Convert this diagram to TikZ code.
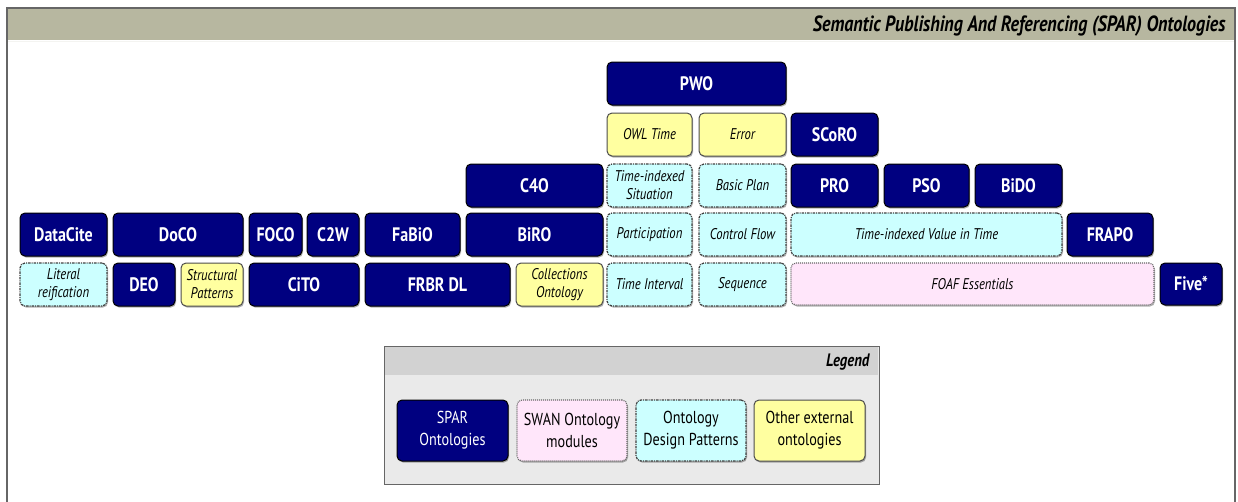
\documentclass[tikz,border=0pt]{standalone}
\usepackage{fontspec}
\setmainfont{PT Sans}[FakeStretch=0.82]
\usetikzlibrary{shadows}
\definecolor{navy}{RGB}{0,0,128}
\definecolor{ylw}{RGB}{255,255,160}
\definecolor{cyn}{RGB}{204,255,255}
\definecolor{pnk}{RGB}{255,230,250}
\definecolor{band}{RGB}{183,183,160}
\definecolor{lghead}{RGB}{210,210,210}
\definecolor{lgbody}{RGB}{234,234,234}
\tikzset{
  base/.style={rounded corners=5pt, inner sep=0pt, align=center, line width=1pt,
    drop shadow={shadow xshift=1pt, shadow yshift=-1.5pt, opacity=0.3, fill=black}},
  spar/.style={base, fill=navy, draw=black, text=white, font=\bfseries\fontsize{19.5}{20}\selectfont},
  ext/.style={base, fill=ylw, draw=black!70, text=black, font=\itshape\fontsize{15.5}{18}\selectfont},
  odp/.style={base, fill=cyn, draw=black!75, line width=1.2pt, text=black, dash pattern=on 2.5pt off 1pt on 1pt off 1pt, font=\itshape\fontsize{15.5}{18}\selectfont},
  swan/.style={base, fill=pnk, draw=black!60, line width=1.1pt, text=black, dash pattern=on 1pt off 1pt, font=\itshape\fontsize{15.5}{18}\selectfont},
  lgtext/.style={font=\fontsize{17.3}{22}\selectfont},
}
\newcommand\bx[7]{\node[#1, minimum width=#4pt-#2pt, minimum height=#5pt-#3pt] (#6) at ({(#2+#4)/2},{(#3+#5)/2}) {#7};}
\begin{document}
\begin{tikzpicture}[x=1pt,y=-1pt]
\useasboundingbox (0,0) rectangle (1238,501);
% frame
\fill[band] (7,8) rectangle (1235,40);
\draw[white!85!band, line width=1pt] (8,41) -- (1234,41);
\draw[black!60, line width=1.3pt] (7,520) -- (7,8) -- (1235,8) -- (1235,520);
\node[anchor=east, text=black, font=\bfseries\itshape\fontsize{22}{23}\selectfont] (title) at (1229,26) {Semantic Publishing And Referencing (SPAR) Ontologies};
% row 1
\bx{spar}{607}{62}{786}{105}{pwo}{PWO}
% row 2
\bx{ext}{607}{113}{692}{156}{owltime}{OWL Time}
\bx{ext}{699}{113}{786}{156}{error}{Error}
\bx{spar}{791}{113}{878}{156}{scoro}{SCoRO}
% row 3
\bx{spar}{466}{164}{603}{207}{c4o}{C4O}
\bx{odp}{607}{164}{692}{207}{tis}{Time-indexed\\Situation}
\bx{odp}{699}{164}{786}{207}{basicplan}{Basic Plan}
\bx{spar}{791}{164}{878}{207}{pro}{PRO}
\bx{spar}{884}{164}{969}{207}{pso}{PSO}
\bx{spar}{975}{164}{1062}{207}{bido}{BiDO}
% row 4
\bx{spar}{20}{213}{107}{256}{datacite}{DataCite}
\bx{spar}{113}{213}{243}{256}{doco}{DoCO}
\bx{spar}{249}{213}{302}{256}{foco}{FOCO}
\bx{spar}{307}{213}{359}{256}{ctw}{C2W}
\bx{spar}{365}{213}{460}{256}{fabio}{FaBiO}
\bx{spar}{466}{213}{603}{256}{biro}{BiRO}
\bx{odp}{607}{213}{692}{256}{participation}{Participation}
\bx{odp}{699}{213}{786}{256}{controlflow}{Control Flow}
\bx{odp}{791}{213}{1062}{256}{tvt}{Time-indexed Value in Time}
\bx{spar}{1067}{213}{1153}{256}{frapo}{FRAPO}
% row 5
\bx{odp}{20}{263}{107}{306}{literal}{Literal\\reification}
\bx{spar}{113}{263}{175}{306}{deo}{DEO}
\bx{ext}{181}{263}{243}{306}{structural}{Structural\\Patterns}
\bx{spar}{249}{263}{359}{306}{cito}{CiTO}
\bx{spar}{365}{263}{510}{306}{frbrdl}{FRBR DL}
\bx{ext}{516}{263}{603}{306}{collections}{Collections\\Ontology}
\bx{odp}{607}{263}{692}{306}{timeinterval}{Time Interval}
\bx{odp}{699}{263}{786}{306}{sequence}{Sequence}
\bx{swan}{791}{263}{1154}{305}{foaf}{FOAF Essentials}
\bx{spar}{1160}{263}{1222}{305}{five}{Five*}
% legend
\node[draw=black!60, fill=lgbody, line width=1pt, minimum width=495pt, minimum height=138pt, inner sep=0pt] (legend) at (631.5,415) {};
\fill[lghead] (385,347) rectangle (878,375);
\node[anchor=east, font=\bfseries\itshape\fontsize{18}{19}\selectfont] (legendtitle) at (873,362) {Legend};
\bx{spar, lgtext}{397}{400}{508}{461}{lgspar}{SPAR\\Ontologies}
\bx{swan, lgtext}{517}{400}{627}{461}{lgswan}{SWAN Ontology\\modules}
\bx{odp, lgtext}{636}{400}{746}{461}{lgodp}{Ontology\\Design Patterns}
\bx{ext, lgtext}{754}{400}{865}{461}{lgext}{Other external\\ontologies}
\end{tikzpicture}
\end{document}
